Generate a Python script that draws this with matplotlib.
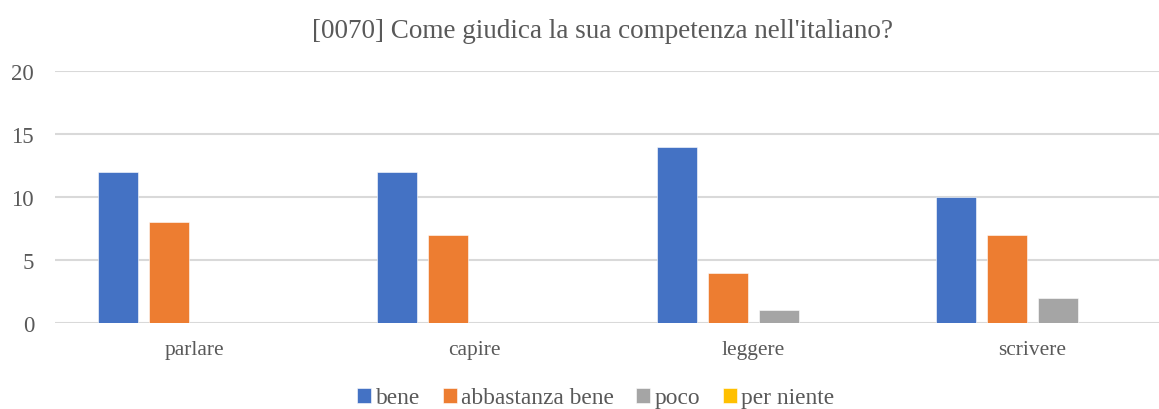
import matplotlib.pyplot as plt
import numpy as np

# dati
categorie = ["parlare", "capire", "leggere", "scrivere"]
serie = ["bene", "abbastanza bene", "poco", "per niente"]
bene = [12, 12, 14, 10]
abbastanza_bene = [8, 7, 4, 7]
poco = [0, 0, 1, 2]
per_niente = [0, 0, 0, 0]
y_ticks = [0, 5, 10, 15, 20]
titolo = "[0070] Come giudica la sua competenza nell'italiano?"

colori = ["#4472C4", "#ED7D31", "#A5A5A5", "#FFC000"]
testo = "#595959"

plt.rcParams['font.family'] = ['Liberation Serif', 'DejaVu Serif']

fig = plt.figure(figsize=(11.59, 4.10), dpi=100)
W, H = 1159, 410
ax = fig.add_axes([55 / W, (H - 324) / H, (W - 55) / W, (324 - 72.3) / H])

x = np.arange(len(categorie))
larghezza = 0.1432
passo = 0.1826
valori = [bene, abbastanza_bene, poco, per_niente]
for i, (nome, vals) in enumerate(zip(serie, valori)):
    ax.bar(x + (i - 1.5) * passo, vals, width=larghezza, color=colori[i],
           label=nome, zorder=3, edgecolor='white', linewidth=0.4)

ax.set_xlim(-0.5, (W - 55) / 279.3 - 0.5)
ax.set_ylim(0, 20)
ax.set_yticks(y_ticks)
ax.set_xticks(x)
ax.set_xticklabels(categorie)

ax.grid(axis='y', color='#D9D9D9', linewidth=1.5, zorder=0)
for s in ax.spines.values():
    s.set_visible(False)
ax.tick_params(axis='both', length=0, colors=testo)
ax.tick_params(axis='y', labelsize=16.5, pad=15)
ax.tick_params(axis='x', labelsize=15.4, pad=12)

fig.text(603 / W, 1 - 31 / H, titolo, ha='center', va='center',
         fontsize=19.5, color=testo)

leg = fig.legend(loc='center', bbox_to_anchor=(596 / W, 1 - 399 / H), ncol=4,
                 frameon=False, fontsize=16.8, handlelength=0.6, handleheight=0.6,
                 handletextpad=0.2, columnspacing=0.95, borderpad=0)
for t in leg.get_texts():
    t.set_color(testo)

fig.savefig("out.png", dpi=100)
